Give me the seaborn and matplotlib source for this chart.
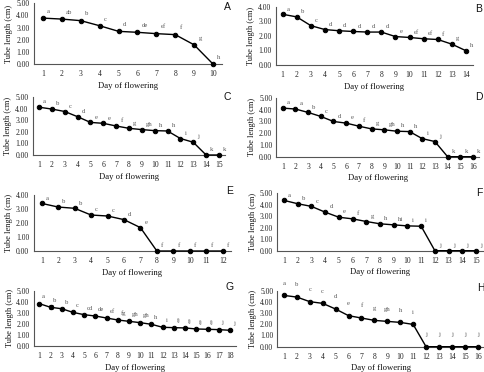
import matplotlib
matplotlib.use("Agg")
import matplotlib.pyplot as plt
import seaborn as sns
import pandas as pd

sns.set_style("white")
plt.rcParams['font.family'] = ['Liberation Serif', 'DejaVu Serif']

W, H = 485, 372

vals_A = [3.78, 3.70, 3.57, 3.15, 2.69, 2.61, 2.50, 2.42, 1.58, 0.00]
let_A = ["a", "ab", "b", "c", "d", "de", "ef", "f", "g", "h"]
vals_B = [3.48, 3.30, 2.70, 2.43, 2.35, 2.30, 2.26, 2.26, 1.95, 1.89, 1.80, 1.75, 1.43, 0.98]
let_B = ["a", "b", "c", "d", "d", "d", "d", "d", "e", "ef", "ef", "f", "g", "h"]
vals_C = [4.12, 3.96, 3.75, 3.30, 2.81, 2.73, 2.50, 2.30, 2.19, 2.10, 2.07, 1.42, 1.10, 0.00, 0.00]
let_C = ["a", "b", "c", "d", "e", "e", "f", "g", "gh", "h", "h", "i", "j", "k", "k"]
vals_D = [4.14, 4.06, 3.77, 3.43, 3.00, 2.86, 2.60, 2.37, 2.29, 2.17, 2.14, 1.54, 1.29, 0.00, 0.00, 0.00]
let_D = ["a", "a", "b", "c", "d", "e", "f", "g", "gh", "h", "h", "i", "j", "k", "k", "k"]
vals_E = [3.40, 3.14, 3.05, 2.57, 2.50, 2.24, 1.67, 0.00, 0.00, 0.00, 0.00, 0.00]
let_E = ["a", "b", "b", "c", "c", "d", "e", "f", "f", "f", "f", "f"]
vals_F = [4.36, 4.07, 3.84, 3.34, 2.90, 2.76, 2.53, 2.33, 2.24, 2.15, 2.12, 0.00, 0.00, 0.00, 0.00]
let_F = ["a", "b", "c", "d", "e", "f", "g", "h", "hi", "i", "i", "j", "j", "j", "j"]
vals_G = [3.83, 3.50, 3.37, 3.04, 2.83, 2.71, 2.53, 2.35, 2.23, 2.11, 1.96, 1.69, 1.66, 1.63, 1.54, 1.51, 1.48, 1.42]
err_G = [0.06, 0.18, 0.08, 0.05, 0.06, 0.05, 0.06, 0.05, 0.05, 0.06, 0.05, 0.06, 0.06, 0.05, 0.05, 0.05, 0.05, 0.06]
let_G = ["a", "b", "b", "c", "cd", "de", "ef", "fg", "gh", "gh", "h", "i", "ij", "ij", "ij", "ij", "j", "j"]
vals_H = [4.58, 4.43, 4.02, 3.87, 3.36, 2.77, 2.56, 2.35, 2.26, 2.17, 1.99, 0.00, 0.00, 0.00, 0.00, 0.00]
let_H = ["a", "b", "c", "c", "d", "e", "f", "g", "gh", "h", "i", "j", "j", "j", "j", "j"]

panels = [
    ("A", vals_A, let_A, 5, (33.6, 222.4, 64.0, 3.3), (227.7, 7.5), (3, 3), None),
    ("B", vals_B, let_B, 4, (275.6, 473.0, 65.0, 6.7), (479.0, 8.5), (3, 2), None),
    ("C", vals_C, let_C, 5, (32.6, 225.4, 155.0, 97.0), (227.7, 97.5), (3, 2), None),
    ("D", vals_D, let_D, 5, (276.4, 479.3, 156.7, 98.0), (479.0, 97.5), (3, 2), None),
    ("E", vals_E, let_E, 4, (33.5, 230.9, 251.0, 195.0), (230.0, 191.0), (3, 2), None),
    ("F", vals_F, let_F, 5, (277.1, 482.9, 250.7, 193.0), (479.0, 193.0), (3, 2), None),
    ("G", vals_G, let_G, 5, (33.7, 235.6, 346.0, 290.7), (230.0, 286.7), (2, 3), err_G),
    ("H", vals_H, let_H, 5, (277.5, 484.2, 346.7, 290.7), (480.5, 288.3), (0, 7), None),
]

fig = plt.figure(figsize=(W / 100, H / 100), dpi=100)

for name, vals, lets, ymax, (l, r, y0, yt), (lx, ly), (ox, oy), err in panels:
    n = len(vals)
    days = list(range(1, n + 1))
    df = pd.DataFrame({"day": days, "len": vals})
    ax = fig.add_axes([l / W, 1 - y0 / H, (r - l) / W, (y0 - yt) / H])
    ax.patch.set_alpha(0)
    if err is not None:
        ax.errorbar(days, vals, yerr=err, fmt='none', ecolor='#333333', elinewidth=0.6,
                    capsize=1.2, capthick=0.6, zorder=2)
    sns.lineplot(data=df, x="day", y="len", ax=ax, color="black", linewidth=1.0,
                 marker="o", markersize=3.2, markeredgecolor="black", zorder=3, clip_on=False)
    ax.set_xlim(0.5, n + 0.5)
    ax.set_ylim(0, ymax)
    ax.set_xticks(days)
    ax.set_xticklabels([str(d) for d in days])
    ax.set_yticks(range(0, ymax + 1))
    ax.set_yticklabels([f"{v:.2f}" for v in range(0, ymax + 1)])
    ax.tick_params(axis='both', length=0, labelsize=5.5, colors='#222222', pad=3)
    ax.tick_params(axis='x', pad=4.5)
    for s in ["top", "right"]:
        ax.spines[s].set_visible(False)
    for s in ["left", "bottom"]:
        ax.spines[s].set_color("#555555")
        ax.spines[s].set_linewidth(0.8)
    ax.set_xlabel("Day of flowering", fontsize=6.2, labelpad=2.5, color='#111111')
    ax.set_ylabel("Tube length (cm)", fontsize=6, labelpad=2, color='#111111')
    ha = 'center' if name == "H" else 'left'
    for d, v, t in zip(days, vals, lets):
        ax.annotate(t, (d, v), xytext=(ox, oy), textcoords='offset points',
                    fontsize=4.8, color='#555555', ha=ha, va='bottom')
    fig.text(lx / W, 1 - ly / H, name, fontsize=7.5, family=['Liberation Sans', 'DejaVu Sans'],
             ha='center', va='center', color='#111111')

fig.savefig("out.png", dpi=100)
